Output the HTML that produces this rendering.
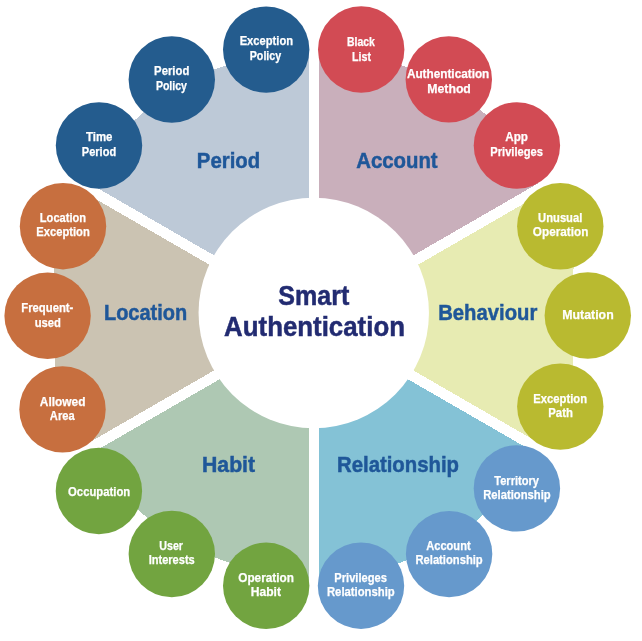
<!DOCTYPE html>
<html><head><meta charset="utf-8"><title>Smart Authentication</title>
<style>
html,body{margin:0;padding:0;background:#fff}
svg{display:block}
text{font-family:"Liberation Sans",sans-serif;font-weight:bold;text-anchor:middle}
.s{font-size:12.5px;fill:#fff;stroke:#fff;stroke-width:.25px}
.c{font-size:22.3px;fill:#1F5799;stroke:#1F5799;stroke-width:.5px}
.t{font-size:27.5px;fill:#222B71;stroke:#222B71;stroke-width:.5px}
</style></head><body>
<div style="will-change:transform;width:642px;height:641px"><svg width="642" height="641" viewBox="0 0 642 641">
<rect width="642" height="641" fill="#fff"/>
<polygon shape-rendering="crispEdges" fill="#BDC9D7" points="308.9,310.1 308.9,49.6 267.1,52.6 177.0,81.0 102.9,149.7 80.2,178.1"/>
<polygon shape-rendering="crispEdges" fill="#C9AFBB" points="318.6,310.1 538.6,183.1 517.4,144.9 450.5,81.0 360.3,52.3 318.6,49.5"/>
<polygon shape-rendering="crispEdges" fill="#E7EBB2" points="324.2,318.9 539.2,443.1 572.3,406.7 573.1,316.0 573.9,226.4 541.4,193.5"/>
<polygon shape-rendering="crispEdges" fill="#84C2D6" points="318.6,327.7 318.6,585.7 358.2,578.2 453.5,543.0 514.1,485.4 536.9,453.7"/>
<polygon shape-rendering="crispEdges" fill="#AEC8B3" points="308.9,327.7 80.7,459.5 108.0,481.3 174.0,543.0 269.4,576.9 308.9,585.8"/>
<polygon shape-rendering="crispEdges" fill="#CBC3B2" points="303.3,318.9 82.9,191.7 53.3,226.3 54.3,316.0 55.3,409.5 83.5,445.8"/>
<circle cx="313.75" cy="313.00" r="115.2" fill="#fff"/>
<circle cx="266.2" cy="49.6" r="43.2" fill="#245C8E"/>
<circle cx="171.8" cy="79.5" r="43.2" fill="#245C8E"/>
<circle cx="99.0" cy="145.5" r="43.2" fill="#245C8E"/>
<circle cx="516.9" cy="145.5" r="43.2" fill="#D24B54"/>
<circle cx="448.8" cy="79.4" r="43.2" fill="#D24B54"/>
<circle cx="361.2" cy="49.5" r="43.2" fill="#D24B54"/>
<circle cx="560.3" cy="406.6" r="43.2" fill="#B9BA30"/>
<circle cx="587.8" cy="315.5" r="43.2" fill="#B9BA30"/>
<circle cx="560.3" cy="226.3" r="43.2" fill="#B9BA30"/>
<circle cx="361.0" cy="585.7" r="43.2" fill="#6699CC"/>
<circle cx="449.1" cy="554.1" r="43.2" fill="#6699CC"/>
<circle cx="516.9" cy="488.4" r="43.2" fill="#6699CC"/>
<circle cx="98.9" cy="491.0" r="43.2" fill="#72A440"/>
<circle cx="171.8" cy="554.0" r="43.2" fill="#72A440"/>
<circle cx="266.2" cy="585.8" r="43.2" fill="#72A440"/>
<circle cx="63.0" cy="226.2" r="43.2" fill="#C76F3F"/>
<circle cx="47.6" cy="315.8" r="43.2" fill="#C76F3F"/>
<circle cx="62.5" cy="409.4" r="43.2" fill="#C76F3F"/>
<text class="s" x="266.37" y="45.45" textLength="53.42" lengthAdjust="spacingAndGlyphs">Exception</text>
<text class="s" x="265.47" y="59.50" textLength="31.47" lengthAdjust="spacingAndGlyphs">Policy</text>
<text class="s" x="171.71" y="75.45" textLength="35.21" lengthAdjust="spacingAndGlyphs">Period</text>
<text class="s" x="171.43" y="89.80" textLength="31.10" lengthAdjust="spacingAndGlyphs">Policy</text>
<text class="s" x="99.24" y="141.10" textLength="26.52" lengthAdjust="spacingAndGlyphs">Time</text>
<text class="s" x="99.00" y="155.70" textLength="34.31" lengthAdjust="spacingAndGlyphs">Period</text>
<text class="s" x="62.95" y="222.10" textLength="46.21" lengthAdjust="spacingAndGlyphs">Location</text>
<text class="s" x="63.04" y="236.20" textLength="53.58" lengthAdjust="spacingAndGlyphs">Exception</text>
<text class="s" x="47.33" y="312.00" textLength="52.10" lengthAdjust="spacingAndGlyphs">Frequent-</text>
<text class="s" x="47.78" y="326.60" textLength="26.21" lengthAdjust="spacingAndGlyphs">used</text>
<text class="s" x="62.66" y="405.90" textLength="45.68" lengthAdjust="spacingAndGlyphs">Allowed</text>
<text class="s" x="62.21" y="420.30" textLength="24.73" lengthAdjust="spacingAndGlyphs">Area</text>
<text class="s" x="99.16" y="495.80" textLength="62.21" lengthAdjust="spacingAndGlyphs">Occupation</text>
<text class="s" x="171.17" y="550.10" textLength="23.73" lengthAdjust="spacingAndGlyphs">User</text>
<text class="s" x="171.71" y="564.40" textLength="46.10" lengthAdjust="spacingAndGlyphs">Interests</text>
<text class="s" x="266.08" y="581.70" textLength="55.63" lengthAdjust="spacingAndGlyphs">Operation</text>
<text class="s" x="265.84" y="596.00" textLength="30.21" lengthAdjust="spacingAndGlyphs">Habit</text>
<text class="s" x="360.63" y="581.70" textLength="52.63" lengthAdjust="spacingAndGlyphs">Privileges</text>
<text class="s" x="360.84" y="596.00" textLength="67.79" lengthAdjust="spacingAndGlyphs">Relationship</text>
<text class="s" x="448.42" y="550.10" textLength="44.36" lengthAdjust="spacingAndGlyphs">Account</text>
<text class="s" x="449.08" y="564.20" textLength="67.26" lengthAdjust="spacingAndGlyphs">Relationship</text>
<text class="s" x="516.59" y="484.70" textLength="44.73" lengthAdjust="spacingAndGlyphs">Territory</text>
<text class="s" x="517.00" y="499.00" textLength="67.47" lengthAdjust="spacingAndGlyphs">Relationship</text>
<text class="s" x="560.21" y="402.70" textLength="53.79" lengthAdjust="spacingAndGlyphs">Exception</text>
<text class="s" x="560.58" y="417.30" textLength="24.58" lengthAdjust="spacingAndGlyphs">Path</text>
<text class="s" x="588.00" y="318.90" textLength="51.37" lengthAdjust="spacingAndGlyphs">Mutation</text>
<text class="s" x="560.21" y="222.10" textLength="44.21" lengthAdjust="spacingAndGlyphs">Unusual</text>
<text class="s" x="560.58" y="236.40" textLength="55.47" lengthAdjust="spacingAndGlyphs">Operation</text>
<text class="s" x="516.63" y="141.30" textLength="22.68" lengthAdjust="spacingAndGlyphs">App</text>
<text class="s" x="516.63" y="155.70" textLength="52.63" lengthAdjust="spacingAndGlyphs">Privileges</text>
<text class="s" x="448.12" y="78.30" textLength="82.38" lengthAdjust="spacingAndGlyphs">Authentication</text>
<text class="s" x="449.08" y="92.70" textLength="43.58" lengthAdjust="spacingAndGlyphs">Method</text>
<text class="s" x="361.00" y="46.30" textLength="27.89" lengthAdjust="spacingAndGlyphs">Black</text>
<text class="s" x="361.50" y="61.00" textLength="18.89" lengthAdjust="spacingAndGlyphs">List</text>
<text class="c" x="228.50" y="167.90" textLength="63.29" lengthAdjust="spacingAndGlyphs">Period</text>
<text class="c" x="396.92" y="167.80" textLength="81.49" lengthAdjust="spacingAndGlyphs">Account</text>
<text class="c" x="487.76" y="320.40" textLength="99.07" lengthAdjust="spacingAndGlyphs">Behaviour</text>
<text class="c" x="398.00" y="471.60" textLength="122.02" lengthAdjust="spacingAndGlyphs">Relationship</text>
<text class="c" x="228.55" y="471.80" textLength="53.07" lengthAdjust="spacingAndGlyphs">Habit</text>
<text class="c" x="145.58" y="320.10" textLength="83.18" lengthAdjust="spacingAndGlyphs">Location</text>
<text class="t" x="313.84" y="304.50" textLength="70.99" lengthAdjust="spacingAndGlyphs">Smart</text>
<text class="t" x="314.53" y="335.90" textLength="180.84" lengthAdjust="spacingAndGlyphs">Authentication</text>
</svg></div>
</body></html>
